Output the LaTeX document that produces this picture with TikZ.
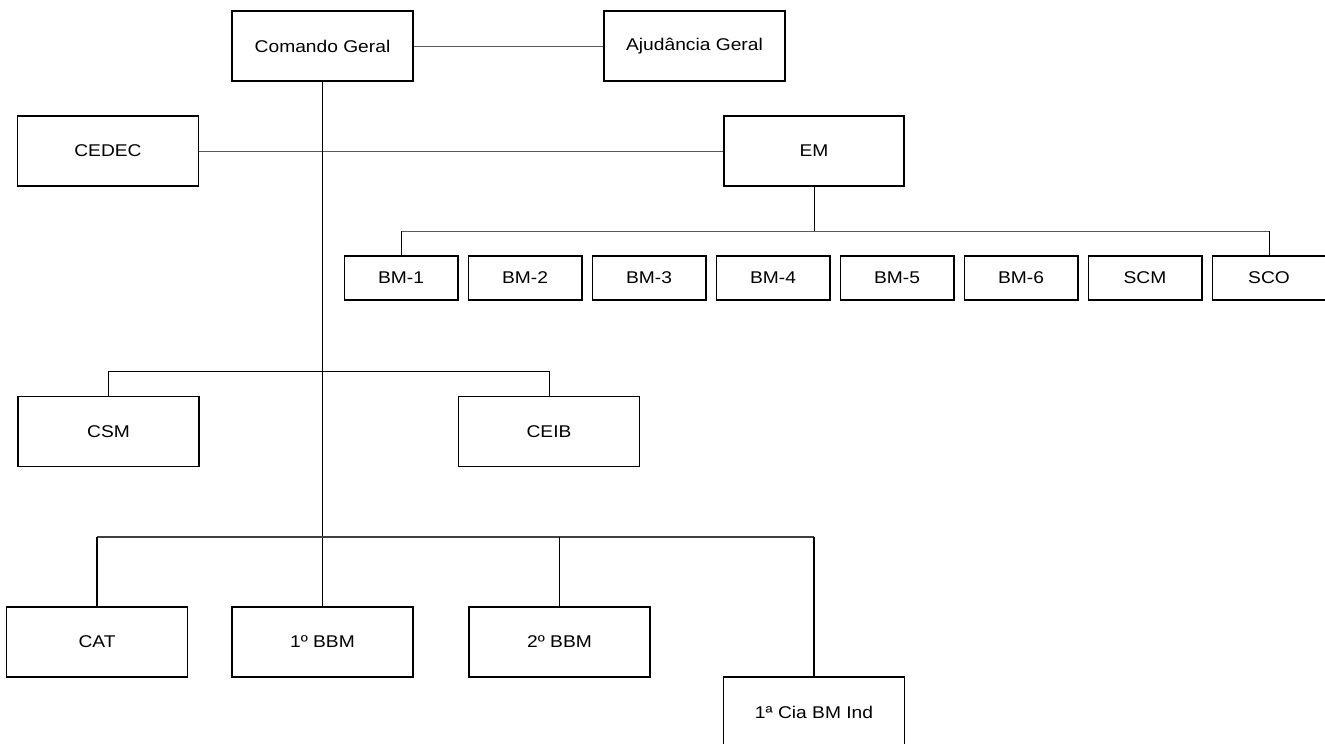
\documentclass[tikz,border=0pt]{standalone}
\usepackage{fontspec}
\setmainfont{Liberation Sans}[FakeStretch=1.13]
\begin{document}
\begin{tikzpicture}[x=1pt,y=-1pt,
  box/.style={draw=black, line width=1.5pt, minimum width=181pt, minimum height=70pt, inner sep=0pt, font=\fontsize{17}{19}\selectfont},
  sbox/.style={box, minimum width=113.5pt, minimum height=44pt},
  hline/.style={draw=black!65, line width=1pt},
  vline/.style={draw=black, line width=1.1pt},
  mline/.style={draw=black, line width=1.3pt},
  bline/.style={draw=black!75, line width=1.4pt}]
\useasboundingbox (0,0) rectangle (1325,744);
\clip (0,0) rectangle (1325,744);
% top
\node[box] (CG) at (322.5,46) {Comando Geral};
\node[box] (AG) at (694.5,46) {Ajudância Geral};
\node[box] (CEDEC) at (108,151) {CEDEC};
\node[box, minimum width=180pt] (EM) at (814,151) {EM};
% BM row
\node[sbox] (BM1) at (401,278) {BM-1};
\node[sbox] (BM2) at (525,278) {BM-2};
\node[sbox] (BM3) at (649,278) {BM-3};
\node[sbox] (BM4) at (773,278) {BM-4};
\node[sbox] (BM5) at (897,278) {BM-5};
\node[sbox] (BM6) at (1021,278) {BM-6};
\node[sbox] (SCM) at (1145,278) {SCM};
\node[sbox] (SCO) at (1269,278) {SCO};
% middle
\node[box] (CSM) at (108.5,431.5) {CSM};
\node[box] (CEIB) at (549,431.5) {CEIB};
% bottom
\node[box] (CAT) at (97,642) {CAT};
\node[box] (BBM1) at (322.5,642) {1º BBM};
\node[box] (BBM2) at (559.5,642) {2º BBM};
\node[box] (CIA) at (814,712) {1ª Cia BM Ind};
% bus coordinates
\coordinate (bmbus) at (0,231);
\coordinate (csbus) at (0,371.5);
\coordinate (botbus) at (0,537);
% connectors
\draw[hline] (CG.east) -- (AG.west);
\draw[hline] (CEDEC.east) -- (EM.west);
\draw[mline] (CG.south) -- (BBM1.north);
% BM bus
\draw[vline, line width=1pt] (EM.south) -- (EM.south |- bmbus);
\draw[hline] (BM1.north |- bmbus) -- (SCO.north |- bmbus);
\draw[vline, line width=1pt] (BM1.north |- bmbus) -- (BM1.north);
\draw[vline, line width=1pt] (SCO.north |- bmbus) -- (SCO.north);
% CSM / CEIB bus
\draw[vline, line width=1pt] (CSM.north) -- (CSM.north |- csbus) -- (CEIB.north |- csbus) -- (CEIB.north);
% bottom bus
\draw[bline] (CAT.north |- botbus) -- (CIA.north |- botbus);
\draw[mline] (CAT.north |- botbus) -- (CAT.north);
\draw[vline, line width=1pt] (BBM2.north |- botbus) -- (BBM2.north);
\draw[mline] (CIA.north |- botbus) -- (CIA.north);
\end{tikzpicture}
\end{document}
